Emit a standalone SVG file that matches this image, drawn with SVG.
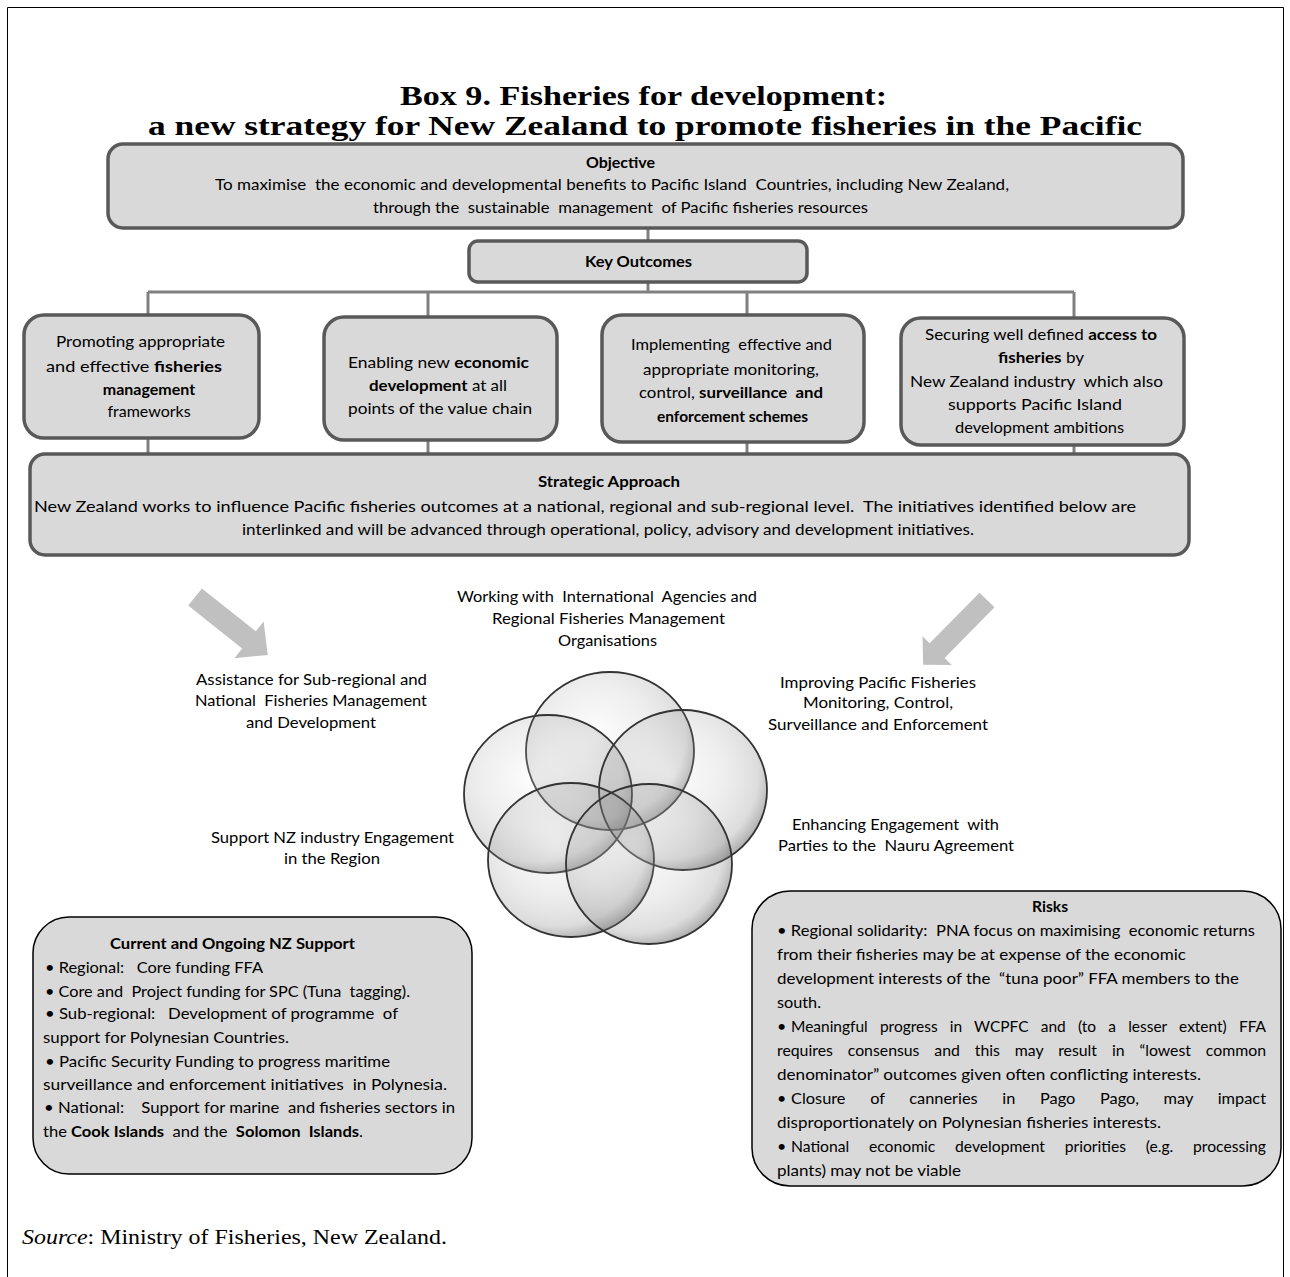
<svg xmlns="http://www.w3.org/2000/svg" width="1290" height="1277" viewBox="0 0 1290 1277">
<defs>
<style>
.t{font-family:Lato,"Liberation Sans",sans-serif;font-size:16px;fill:#000;white-space:pre}
.b{font-weight:700}
.ttl{font-family:"Liberation Serif","Times New Roman",serif;font-size:27px;font-weight:700;fill:#000}
.src{font-family:"Liberation Serif","Times New Roman",serif;font-size:22px;fill:#000}
.box{fill:#d9d9d9;stroke:#595959;stroke-width:3.5}
.box2{fill:#d9d9d9;stroke:#000;stroke-width:1.5}
.conn{stroke:#808080;stroke-width:3;fill:none}
.arrow{fill:#c0c0c0}
.bub{fill:url(#bub);stroke:#333;stroke-width:1.8}
</style>
<radialGradient id="bub" cx="0.42" cy="0.4" r="0.62">
<stop offset="0" stop-color="#ffffff" stop-opacity="0.2"/>
<stop offset="0.5" stop-color="#9a9a9a" stop-opacity="0.16"/>
<stop offset="0.85" stop-color="#707070" stop-opacity="0.24"/>
<stop offset="1" stop-color="#505050" stop-opacity="0.45"/>
</radialGradient>
</defs>
<rect x="0" y="0" width="1290" height="1277" fill="#fff"/>
<path d="M7.5,1277 V7.5 H1283.5 V1277" fill="none" stroke="#000" stroke-width="1"/>

<g id="title">
<text class="ttl" x="400" y="105" textLength="487" lengthAdjust="spacingAndGlyphs">Box 9. Fisheries for development:</text>
<text class="ttl" x="148" y="135" textLength="994" lengthAdjust="spacingAndGlyphs">a new strategy for New Zealand to promote fisheries in the Pacific</text>
</g>

<g id="connectors">
<line class="conn" x1="648" y1="228" x2="648" y2="240"/>
<line class="conn" x1="648" y1="282" x2="648" y2="292"/>
<line class="conn" x1="148" y1="292" x2="1074" y2="292"/>
<line class="conn" x1="148" y1="292" x2="148" y2="315"/>
<line class="conn" x1="428" y1="292" x2="428" y2="317"/>
<line class="conn" x1="747" y1="292" x2="747" y2="315"/>
<line class="conn" x1="1074" y1="292" x2="1074" y2="318"/>
<line class="conn" x1="148" y1="438" x2="148" y2="454"/>
<line class="conn" x1="428" y1="440" x2="428" y2="454"/>
<line class="conn" x1="747" y1="442" x2="747" y2="454"/>
<line class="conn" x1="1074" y1="445" x2="1074" y2="454"/>
</g>

<g id="objective">
<rect class="box" x="108" y="144" width="1075" height="84" rx="15"/>
<text class="t b" x="586" y="168" textLength="69" lengthAdjust="spacingAndGlyphs">Objective</text>
<text class="t" x="215" y="190" textLength="794" lengthAdjust="spacingAndGlyphs">To maximise  the economic and developmental benefits to Pacific Island  Countries, including New Zealand,</text>
<text class="t" x="373" y="213" textLength="495" lengthAdjust="spacingAndGlyphs">through the  sustainable  management  of Pacific fisheries resources</text>
</g>

<g id="key-outcomes">
<rect class="box" x="469" y="241" width="338" height="41" rx="9"/>
<text class="t b" x="585" y="267" textLength="107" lengthAdjust="spacingAndGlyphs">Key Outcomes</text>
</g>

<g id="outcome-1">
<rect class="box" x="24" y="315" width="235" height="123" rx="20"/>
<text class="t" x="56" y="347" textLength="169" lengthAdjust="spacingAndGlyphs">Promoting appropriate</text>
<text class="t" x="46" y="372" textLength="176" lengthAdjust="spacingAndGlyphs">and effective <tspan class="b">fisheries</tspan></text>
<text class="t b" x="149" y="395" text-anchor="middle">management</text>
<text class="t" x="149" y="417" text-anchor="middle">frameworks</text>
</g>

<g id="outcome-2">
<rect class="box" x="324" y="317" width="233" height="123" rx="20"/>
<text class="t" x="348" y="368" textLength="181" lengthAdjust="spacingAndGlyphs">Enabling new <tspan class="b">economic</tspan></text>
<text class="t" x="369" y="391" textLength="138" lengthAdjust="spacingAndGlyphs"><tspan class="b">development</tspan> at all</text>
<text class="t" x="348" y="414" textLength="184" lengthAdjust="spacingAndGlyphs">points of the value chain</text>
</g>

<g id="outcome-3">
<rect class="box" x="602" y="315" width="262" height="127" rx="20"/>
<text class="t" x="631" y="350" textLength="201" lengthAdjust="spacingAndGlyphs">Implementing  effective and</text>
<text class="t" x="643" y="375" textLength="176" lengthAdjust="spacingAndGlyphs">appropriate monitoring,</text>
<text class="t" x="639" y="398" textLength="184" lengthAdjust="spacingAndGlyphs">control, <tspan class="b">surveillance  and</tspan></text>
<text class="t b" x="657" y="422" textLength="151" lengthAdjust="spacingAndGlyphs">enforcement schemes</text>
</g>

<g id="outcome-4">
<rect class="box" x="901" y="318" width="283" height="127" rx="20"/>
<text class="t" x="925" y="340" textLength="232" lengthAdjust="spacingAndGlyphs">Securing well defined <tspan class="b">access to</tspan></text>
<text class="t" x="998" y="363" textLength="86" lengthAdjust="spacingAndGlyphs"><tspan class="b">fisheries</tspan> by</text>
<text class="t" x="910" y="387" textLength="253" lengthAdjust="spacingAndGlyphs">New Zealand industry  which also</text>
<text class="t" x="948" y="410" textLength="174" lengthAdjust="spacingAndGlyphs">supports Pacific Island</text>
<text class="t" x="955" y="433" textLength="169" lengthAdjust="spacingAndGlyphs">development ambitions</text>
</g>

<g id="strategic-approach">
<rect class="box" x="30" y="454" width="1159" height="101" rx="15"/>
<text class="t b" x="538" y="487" textLength="142" lengthAdjust="spacingAndGlyphs">Strategic Approach</text>
<text class="t" x="34" y="512" textLength="1102" lengthAdjust="spacingAndGlyphs">New Zealand works to influence Pacific fisheries outcomes at a national, regional and sub-regional level.  The initiatives identified below are</text>
<text class="t" x="242" y="535" textLength="732" lengthAdjust="spacingAndGlyphs">interlinked and will be advanced through operational, policy, advisory and development initiatives.</text>
</g>

<g id="arrow-left">
<polygon class="arrow" transform="translate(195,597) rotate(38.5)" points="0,-11 69,-11 69,-23.5 93,0 69,23.5 69,11 0,11"/>
</g>
<g id="arrow-right">
<polygon class="arrow" transform="translate(987,600) rotate(134.6)" points="0,-10.5 71,-10.5 71,-20.5 91,0 71,20.5 71,10.5 0,10.5"/>
</g>

<g id="bubbles">
<ellipse class="bub" cx="610" cy="751" rx="84" ry="79"/>
<ellipse class="bub" cx="548" cy="794" rx="84" ry="79"/>
<ellipse class="bub" cx="683" cy="790" rx="84" ry="80"/>
<ellipse class="bub" cx="571" cy="860" rx="83" ry="77"/>
<ellipse class="bub" cx="649" cy="864" rx="83" ry="80"/>
</g>

<g id="label-international">
<text class="t" x="457" y="602" textLength="300" lengthAdjust="spacingAndGlyphs">Working with  International  Agencies and</text>
<text class="t" x="492" y="624" textLength="233" lengthAdjust="spacingAndGlyphs">Regional Fisheries Management</text>
<text class="t" x="558" y="646" textLength="99" lengthAdjust="spacingAndGlyphs">Organisations</text>
</g>
<g id="label-assistance">
<text class="t" x="196" y="685" textLength="231" lengthAdjust="spacingAndGlyphs">Assistance for Sub-regional and</text>
<text class="t" x="195" y="706" textLength="232" lengthAdjust="spacingAndGlyphs">National  Fisheries Management</text>
<text class="t" x="246" y="728" textLength="130" lengthAdjust="spacingAndGlyphs">and Development</text>
</g>
<g id="label-industry">
<text class="t" x="211" y="843" textLength="243" lengthAdjust="spacingAndGlyphs">Support NZ industry Engagement</text>
<text class="t" x="284" y="864" textLength="96" lengthAdjust="spacingAndGlyphs">in the Region</text>
</g>
<g id="label-mcs">
<text class="t" x="780" y="688" textLength="196" lengthAdjust="spacingAndGlyphs">Improving Pacific Fisheries</text>
<text class="t" x="803" y="708" textLength="150" lengthAdjust="spacingAndGlyphs">Monitoring, Control,</text>
<text class="t" x="768" y="730" textLength="220" lengthAdjust="spacingAndGlyphs">Surveillance and Enforcement</text>
</g>
<g id="label-pna">
<text class="t" x="792" y="830" textLength="207" lengthAdjust="spacingAndGlyphs">Enhancing Engagement  with</text>
<text class="t" x="778" y="851" textLength="236" lengthAdjust="spacingAndGlyphs">Parties to the  Nauru Agreement</text>
</g>

<g id="current-support">
<rect class="box2" x="33" y="917" width="439" height="257" rx="36"/>
<text class="t b" x="110" y="949" textLength="245" lengthAdjust="spacingAndGlyphs">Current and Ongoing NZ Support</text>
<text class="t" x="45" y="973" textLength="218" lengthAdjust="spacingAndGlyphs">• Regional:   Core funding FFA</text>
<text class="t" x="45" y="997" textLength="365" lengthAdjust="spacingAndGlyphs">• Core and  Project funding for SPC (Tuna  tagging).</text>
<text class="t" x="45" y="1019" textLength="353" lengthAdjust="spacingAndGlyphs">• Sub-regional:   Development of programme  of</text>
<text class="t" x="43" y="1043" textLength="246" lengthAdjust="spacingAndGlyphs">support for Polynesian Countries.</text>
<text class="t" x="45" y="1067" textLength="345" lengthAdjust="spacingAndGlyphs">• Pacific Security Funding to progress maritime</text>
<text class="t" x="43" y="1090" textLength="404" lengthAdjust="spacingAndGlyphs">surveillance and enforcement initiatives  in Polynesia.</text>
<text class="t" x="44" y="1113" textLength="411" lengthAdjust="spacingAndGlyphs">• National:    Support for marine  and fisheries sectors in</text>
<text class="t" x="43" y="1137" textLength="320" lengthAdjust="spacingAndGlyphs">the <tspan class="b">Cook Islands</tspan>  and the  <tspan class="b">Solomon  Islands</tspan>.</text>
</g>

<g id="risks">
<rect class="box2" x="752" y="891" width="529" height="295" rx="38"/>
<text class="t b" x="1032" y="912" textLength="36" lengthAdjust="spacingAndGlyphs">Risks</text>
<text class="t" x="777" y="936" textLength="478" lengthAdjust="spacingAndGlyphs">• Regional solidarity:  PNA focus on maximising  economic returns</text>
<text class="t" x="777" y="960" textLength="409" lengthAdjust="spacingAndGlyphs">from their fisheries may be at expense of the economic</text>
<text class="t" x="777" y="984" textLength="462" lengthAdjust="spacingAndGlyphs">development interests of the  “tuna poor” FFA members to the</text>
<text class="t" x="777" y="1008" textLength="44" lengthAdjust="spacingAndGlyphs">south.</text>
<text class="t" x="777" y="1032">•</text>
<text class="t" x="791" y="1032" textLength="475" lengthAdjust="spacingAndGlyphs" style="word-spacing:8.5px">Meaningful progress in WCPFC and (to a lesser extent) FFA</text>
<text class="t" x="777" y="1056" textLength="489" lengthAdjust="spacingAndGlyphs" style="word-spacing:11px">requires consensus and this may result in “lowest common</text>
<text class="t" x="777" y="1080" textLength="424" lengthAdjust="spacingAndGlyphs">denominator” outcomes given often conflicting interests.</text>
<text class="t" x="777" y="1104">•</text>
<text class="t" x="791" y="1104" textLength="475" lengthAdjust="spacingAndGlyphs" style="word-spacing:20px">Closure of canneries in Pago Pago, may impact</text>
<text class="t" x="777" y="1128" textLength="384" lengthAdjust="spacingAndGlyphs">disproportionately on Polynesian fisheries interests.</text>
<text class="t" x="777" y="1152">•</text>
<text class="t" x="791" y="1152" textLength="475" lengthAdjust="spacingAndGlyphs" style="word-spacing:16px">National economic development priorities (e.g. processing</text>
<text class="t" x="777" y="1176" textLength="184" lengthAdjust="spacingAndGlyphs">plants) may not be viable</text>
</g>

<g id="source">
<text class="src" x="22" y="1244" textLength="425" lengthAdjust="spacingAndGlyphs"><tspan font-style="italic">Source</tspan>: Ministry of Fisheries, New Zealand.</text>
</g>
</svg>
